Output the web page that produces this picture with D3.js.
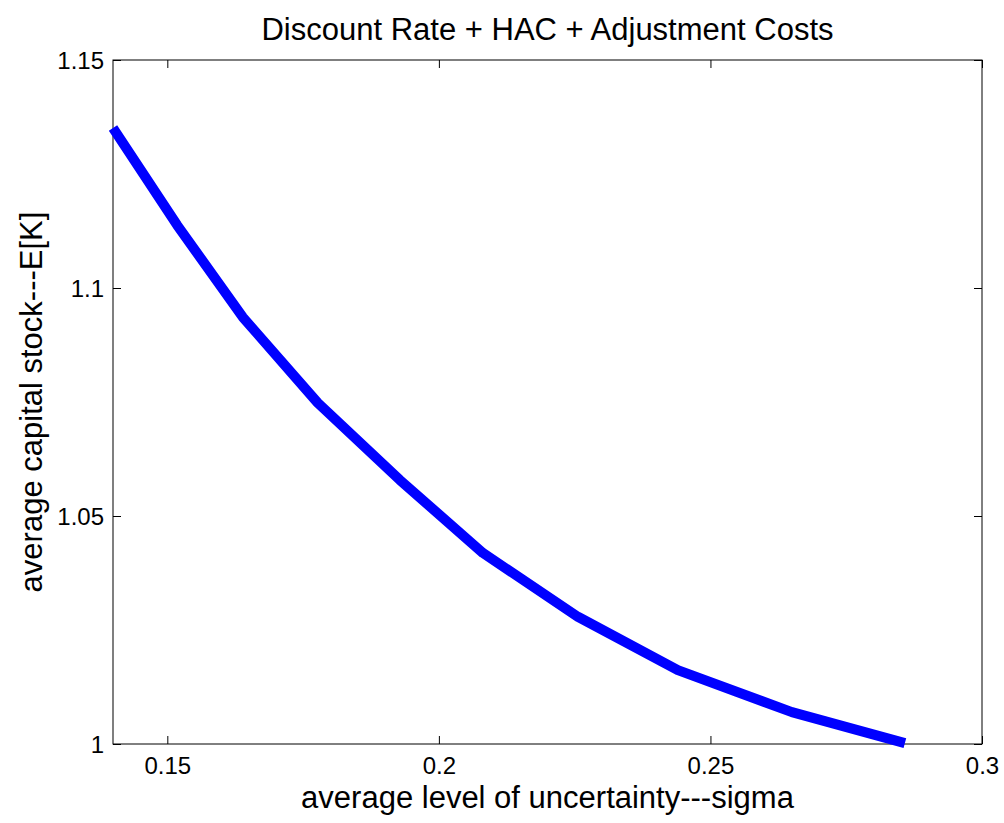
<!DOCTYPE html>
<html>
<head>
<meta charset="utf-8">
<script src="https://cdn.jsdelivr.net/npm/d3@7"></script>
<style>
  html, body { margin: 0; padding: 0; background: #fff; }
  svg { display: block; font-family: "Liberation Sans", Arial, sans-serif; }
</style>
</head>
<body>
<svg id="chart" width="1004" height="823"></svg>
<script>
// Average uncertainty (sigma) vs. average capital stock E[K]
const sigma = [0.1400, 0.1518, 0.1639, 0.1777, 0.1928, 0.2081, 0.2256, 0.2440, 0.2650, 0.2858];
const capital = [1.1351, 1.1138, 1.0936, 1.0748, 1.0579, 1.0419, 1.0279, 1.0162, 1.0070, 1.0002];
const xTicks = [0.15, 0.2, 0.25, 0.3];
const yTicks = [1, 1.05, 1.1, 1.15];
const xDomain = [0.14, 0.3];
const yDomain = [1, 1.15];

const title = "Discount Rate + HAC + Adjustment Costs";
const xLabel = "average level of uncertainty---sigma";
const yLabel = "average capital stock---E[K]";

const svg = d3.select("#chart");
const m = { left: 113, right: 982, top: 60, bottom: 744 };

const x = d3.scaleLinear().domain(xDomain).range([m.left, m.right]);
const y = d3.scaleLinear().domain(yDomain).range([m.bottom, m.top]);
const tickLen = 8;
const fmt = d => String(d);

// Plot frame
svg.append("rect")
  .attr("x", m.left).attr("y", m.top)
  .attr("width", m.right - m.left).attr("height", m.bottom - m.top)
  .attr("fill", "#fff").attr("stroke", "#000").attr("stroke-width", 1);

// Inward ticks on all four sides
const gB = svg.append("g").attr("transform", `translate(0,${m.bottom})`)
  .call(d3.axisBottom(x).tickValues(xTicks).tickSizeInner(-tickLen).tickSizeOuter(0).tickPadding(13).tickFormat(fmt));
const gT = svg.append("g").attr("transform", `translate(0,${m.top})`)
  .call(d3.axisTop(x).tickValues(xTicks).tickSizeInner(-tickLen).tickSizeOuter(0).tickFormat(""));
const gL = svg.append("g").attr("transform", `translate(${m.left},0)`)
  .call(d3.axisLeft(y).tickValues(yTicks).tickSizeInner(-tickLen).tickSizeOuter(0).tickPadding(9).tickFormat(fmt));
const gR = svg.append("g").attr("transform", `translate(${m.right},0)`)
  .call(d3.axisRight(y).tickValues(yTicks).tickSizeInner(-tickLen).tickSizeOuter(0).tickFormat(""));

[gB, gT, gL, gR].forEach(g => {
  g.select(".domain").remove();
  g.selectAll(".tick line").attr("stroke", "#000").attr("stroke-width", 1);
  g.selectAll(".tick text")
    .attr("fill", "#000")
    .style("font-family", "'Liberation Sans', Arial, sans-serif")
    .style("font-size", "24px");
});
gL.selectAll(".tick text").attr("dy", "0.35em");

// Data line
const line = d3.line().x((d, i) => x(sigma[i])).y(d => y(d));
svg.append("path")
  .datum(capital)
  .attr("d", line)
  .attr("fill", "none")
  .attr("stroke", "#0000ff")
  .attr("stroke-width", 10)
  .attr("stroke-linejoin", "round");

// Title and axis labels
svg.append("text")
  .attr("x", (m.left + m.right) / 2).attr("y", 40)
  .attr("text-anchor", "middle")
  .style("font-size", "31px")
  .text(title);

svg.append("text")
  .attr("x", (m.left + m.right) / 2).attr("y", 808)
  .attr("text-anchor", "middle")
  .style("font-size", "31px")
  .text(xLabel);

svg.append("text")
  .attr("transform", `translate(42,${(m.top + m.bottom) / 2}) rotate(-90)`)
  .attr("text-anchor", "middle")
  .style("font-size", "31px")
  .text(yLabel);
</script>
</body>
</html>
